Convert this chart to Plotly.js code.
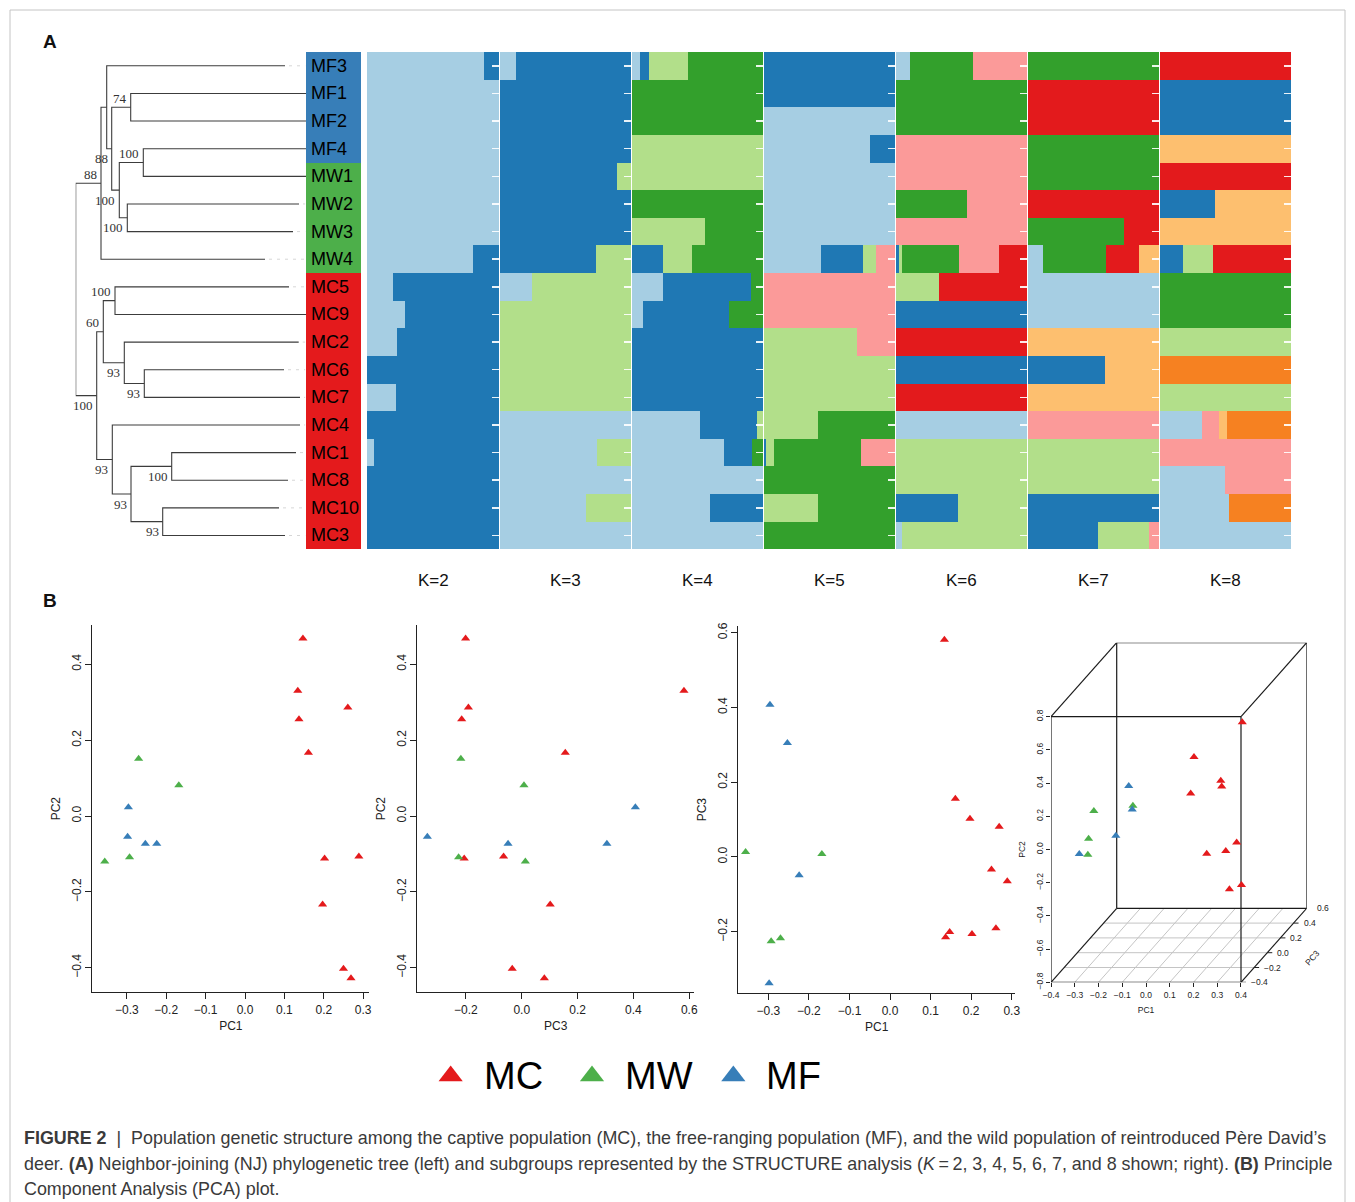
<!DOCTYPE html>
<html><head><meta charset="utf-8">
<script src="https://cdn.plot.ly/plotly-3.0.1.min.js"></script>
<style>html,body{margin:0;padding:0;background:#fff}#chart{width:1355px;height:1202px}</style>
</head><body><div id="chart"></div>
<script>
// ------------------------- DATA -------------------------
const samples = ['MF3','MF1','MF2','MF4','MW1','MW2','MW3','MW4','MC5','MC9','MC2','MC6','MC7','MC4','MC1','MC8','MC10','MC3'];
// NJ tree: leaf tip depth (distance from root, tree units)
const leafDepth = [209.3,231,231,231,231,223.3,217.3,189.3,213.3,231,223,208.3,224.3,224.3,220.3,212.3,203.3,209.3];
// internal nodes: children ids (0..17 leaves, 18+ internal nodes), depth, bootstrap support
const nodeLeft    = [1, 3, 5, 19, 18, 0, 23, 8, 11, 10, 25, 14, 16, 29, 13, 28, 24];
const nodeRight   = [2, 4, 6, 20, 21, 22, 7, 9, 12, 26, 27, 15, 17, 30, 31, 32, 33];
const nodeDepth   = [55, 67.6, 51.6, 43.6, 36, 31, 25.3, 39.3, 68.6, 48.6, 27.6, 96, 87, 55.3, 36.6, 21, 0];
const nodeSupport = ['74','100','100','100','88','','88','100','93','93','60','100','93','93','93','100',''];
const supportSide = ['a','a','b','b','b','','a','a','b','b','a','b','b','b','b','b',''];

const groupNames  = ['MC','MW','MF'];
const groupColors = {MC:'#e41a1c', MW:'#4daf4a', MF:'#377eb8'};

// STRUCTURE membership (per cluster, across the 18 samples above)
const clusterColors = {LB:'#a6cee3', DB:'#1f78b4', LG:'#b2df8a', G:'#33a02c', PK:'#fb9a99', RD:'#e31a1c', LO:'#fdbf6f', OR:'#f68121'};
const kLabels = ['K=2','K=3','K=4','K=5','K=6','K=7','K=8'];

const k2Order = ['LB','DB'];
const k2Q = [
 [0.884,1,1,1,1,1,1,0.80,0.197,0.29,0.227,0,0.222,0,0.056,0,0,0],
 [0.116,0,0,0,0,0,0,0.20,0.803,0.71,0.773,1,0.778,1,0.944,1,1,1]];
const k3Order = ['LB','DB','LG'];
const k3Q = [
 [0.122,0,0,0,0,0,0,0,0.242,0,0,0,0,1,0.738,1,0.656,1],
 [0.878,1,1,1,0.896,1,1,0.733,0,0,0,0,0,0,0,0,0,0],
 [0,0,0,0,0.104,0,0,0.267,0.758,1,1,1,1,0,0.262,0,0.344,0]];
const k4Order = ['LB','DB','LG','G'];
const k4Q = [
 [0.061,0,0,0,0,0,0,0,0.239,0.081,0,0,0,0.518,0.703,1,0.599,1],
 [0.066,0,0,0,0,0,0,0.24,0.667,0.66,1,1,1,0.439,0.213,0,0.401,0],
 [0.297,0,0,1,1,0,0.556,0.218,0,0,0,0,0,0.043,0,0,0,0],
 [0.576,1,1,0,0,1,0.444,0.542,0.094,0.259,0,0,0,0,0.084,0,0,0]];
const k5Order = ['LB','DB','LG','G','PK'];
const k5Q = [
 [0,0,1,0.806,1,1,1,0.437,0,0,0,0,0,0,0,0,0,0],
 [1,1,0,0.194,0,0,0,0.317,0,0,0,0,0,0,0.018,0,0,0],
 [0,0,0,0,0,0,0,0.102,0,0,0.712,1,1,0.414,0.055,0,0.411,0],
 [0,0,0,0,0,0,0,0,0,0,0,0,0,0.586,0.668,1,0.589,1],
 [0,0,0,0,0,0,0,0.144,1,1,0.288,0,0,0,0.259,0,0,0]];
const k6Order = ['LB','DB','LG','G','PK','RD'];
const k6Q = [
 [0.108,0,0,0,0,0,0,0,0,0,0,0,0,1,0,0,0,0.045],
 [0,0,0,0,0,0,0,0.024,0,1,0,1,0,0,0,0,0.476,0],
 [0,0,0,0,0,0,0,0.021,0.326,0,0,0,0,0,1,1,0.524,0.955],
 [0.479,1,1,0,0,0.539,0,0.437,0,0,0,0,0,0,0,0,0,0],
 [0.413,0,0,1,1,0.461,1,0.305,0,0,0,0,0,0,0,0,0,0],
 [0,0,0,0,0,0,0,0.213,0.674,0,1,0,1,0,0,0,0,0]];
const k7Order = ['LB','DB','LG','G','RD','LO','PK'];
const k7Q = [
 [0,0,0,0,0,0,0,0.113,1,1,0,0,0,0,0,0,0,0],
 [0,0,0,0,0,0,0,0,0,0,0,0.588,0,0,0,0,1,0.535],
 [0,0,0,0,0,0,0,0,0,0,0,0,0,0,1,1,0,0.388],
 [1,0,0,1,1,0,0.735,0.483,0,0,0,0,0,0,0,0,0,0],
 [0,1,1,0,0,1,0.265,0.249,0,0,0,0,0,0,0,0,0,0],
 [0,0,0,0,0,0,0,0.155,0,0,1,0.412,1,0,0,0,0,0],
 [0,0,0,0,0,0,0,0,0,0,0,0,0,1,0,0,0,0.077]];
const k8Order = ['LB','DB','LG','G','PK','LO','OR','RD'];
const k8Q = [
 [0,0,0,0,0,0,0,0,0,0,0,0,0,0.321,0,0.493,0.527,1],
 [0,1,1,0,0,0.418,0,0.175,0,0,0,0,0,0,0,0,0,0],
 [0,0,0,0,0,0,0,0.232,0,0,1,0,1,0,0,0,0,0],
 [0,0,0,0,0,0,0,0,1,1,0,0,0,0,0,0,0,0],
 [0,0,0,0,0,0,0,0,0,0,0,0,0,0.131,1,0.507,0,0],
 [0,0,0,1,0,0.582,1,0,0,0,0,0,0,0.057,0,0,0,0],
 [0,0,0,0,0,0,0,0,0,0,0,1,0,0.491,0,0,0.473,0],
 [1,0,0,0,1,0,0,0.593,0,0,0,0,0,0,0,0,0,0]];

// PCA scores
const mcPC1 = [0.147,0.134,0.261,0.137,0.161,0.202,0.289,0.197,0.250,0.269];
const mcPC2 = [0.468,0.330,0.286,0.255,0.167,-0.112,-0.107,-0.233,-0.403,-0.428];
const mcPC3 = [-0.201,0.581,-0.191,-0.215,0.156,-0.206,-0.065,0.102,-0.034,0.081];
const mwPC1 = [-0.270,-0.168,-0.293,-0.356];
const mwPC2 = [0.151,0.081,-0.109,-0.120];
const mwPC3 = [-0.218,0.008,-0.226,0.013];
const mfPC1 = [-0.296,-0.298,-0.253,-0.224];
const mfPC2 = [0.023,-0.055,-0.073,-0.073];
const mfPC3 = [0.407,-0.338,0.305,-0.049];

// ------------------------- LAYOUT HELPERS -------------------------
const W = 1355, H = 1202;
const PX = v => v / W;
const PY = v => 1 - v / H;
const xd = (a, b) => [PX(a), PX(b)];
const yd = (top, bot) => [PY(bot), PY(top)];
const FONT = 'Liberation Sans, Arial, Helvetica, sans-serif';
const ROWS = yd(52, 549.3);
const idx = samples.map((_, i) => i);
const ROW_RANGE = [samples.length - 0.5, -0.5];

const traces = [];
const layout = {
  width: W, height: H, margin: {l:0, r:0, t:0, b:0},
  paper_bgcolor: '#ffffff', plot_bgcolor: 'rgba(0,0,0,0)',
  showlegend: false, barmode: 'stack', bargap: 0,
  font: {family: FONT, color: '#222'},
  shapes: [], annotations: []
};
const hidden = extra => Object.assign({visible:false, fixedrange:true, showgrid:false, zeroline:false}, extra);

// frame
layout.shapes.push({type:'rect', xref:'paper', yref:'paper', x0:PX(10), x1:PX(1345), y0:PY(10), y1:PY(1240),
  line:{color:'#c4c4c4', width:1}, layer:'below'});

// ------------------------- DENDROGRAM -------------------------
const nLeaves = samples.length;
const depthOf = id => id < nLeaves ? leafDepth[id] : nodeDepth[id - nLeaves];
function yOf(id){ if (id < nLeaves) return id; const j = id - nLeaves; return (yOf(nodeLeft[j]) + yOf(nodeRight[j])) / 2; }
const tx = [], ty = [];
nodeDepth.forEach((d, j) => {
  const a = nodeLeft[j], b = nodeRight[j];
  const ya = yOf(a), yb = yOf(b);
  tx.push(depthOf(a), d, d, depthOf(b), null);
  ty.push(ya, ya, yb, yb, null);
});
traces.push({type:'scatter', mode:'lines', x:tx, y:ty, xaxis:'x', yaxis:'y',
  line:{color:'#3c3c3c', width:1.1}, hoverinfo:'skip'});
const ex = [], ey = [];
leafDepth.forEach((d, i) => { if (d < 227) { ex.push(d + 4, 229.5, null); ey.push(i, i, null); } });
traces.push({type:'scatter', mode:'lines', x:ex, y:ey, xaxis:'x', yaxis:'y',
  line:{color:'#d6d6d6', width:1, dash:'3px,5px'}, hoverinfo:'skip'});
layout.xaxis = hidden({domain: xd(75.7, 306.7), range:[0, 231], anchor:'y'});
layout.yaxis = hidden({domain: ROWS, range: ROW_RANGE, anchor:'x'});
nodeSupport.forEach((s, j) => {
  if (!s) return;
  layout.annotations.push({xref:'x', yref:'y', x: nodeDepth[j], y: yOf(nLeaves + j), text: s, showarrow:false,
    xanchor:'right', yanchor:'middle', xshift:-2, yshift: supportSide[j] === 'a' ? 9 : -10,
    font:{family:'Liberation Serif, Times New Roman, serif', size:13, color:'#333'}});
});

// ------------------------- SAMPLE LABEL COLUMN -------------------------
traces.push({type:'bar', orientation:'h', x: samples.map(() => 1), y: idx, width: 1, xaxis:'x2', yaxis:'y2',
  marker:{color: samples.map(s => groupColors[s.slice(0,2)]), line:{width:0}}, hoverinfo:'skip'});
layout.xaxis2 = hidden({domain: xd(306, 361), range:[0, 1], anchor:'y2'});
layout.yaxis2 = hidden({domain: ROWS, range: ROW_RANGE, anchor:'x2'});
samples.forEach((s, i) => layout.annotations.push({xref:'x2', yref:'y2', x:0, y:i, text:s, showarrow:false,
  xanchor:'left', yanchor:'middle', xshift:3, font:{family:FONT, size:18, color:'#000'}}));

// ------------------------- STRUCTURE PANELS -------------------------
const structure = [
  {order:k2Order, q:k2Q}, {order:k3Order, q:k3Q}, {order:k4Order, q:k4Q}, {order:k5Order, q:k5Q},
  {order:k6Order, q:k6Q}, {order:k7Order, q:k7Q}, {order:k8Order, q:k8Q}];
const kDom = [[367,499],[500,631],[632,763],[764,895],[896,1027],[1028,1159],[1160,1291]];
structure.forEach((p, k) => {
  const ax = 3 + k;
  p.order.forEach((c, ci) => traces.push({type:'bar', orientation:'h', x: p.q[ci], y: idx, width: 1,
    xaxis:'x' + ax, yaxis:'y' + ax, marker:{color: clusterColors[c], line:{width:0}}, hoverinfo:'skip'}));
  layout['xaxis' + ax] = hidden({domain: xd(kDom[k][0], kDom[k][1]), range:[0, 1], anchor:'y' + ax});
  layout['yaxis' + ax] = {domain: ROWS, range: ROW_RANGE, anchor:'x' + ax, side:'right', ticks:'inside',
    ticklen:7, tickwidth:1.5, tickcolor:'rgba(255,255,255,0.9)', tickmode:'array', tickvals: idx,
    showticklabels:false, showgrid:false, zeroline:false, showline:false, fixedrange:true};
  layout.annotations.push({xref:'x' + ax + ' domain', yref:'paper', x:0.5, y:PY(580), text: kLabels[k],
    showarrow:false, xanchor:'center', yanchor:'middle', font:{family:FONT, size:17, color:'#111'}});
});

// panel letters
layout.annotations.push({xref:'paper', yref:'paper', x:PX(41), y:PY(42), text:'<b>A</b>', showarrow:false,
  xanchor:'left', yanchor:'middle', font:{family:FONT, size:19, color:'#111'}});
layout.annotations.push({xref:'paper', yref:'paper', x:PX(41), y:PY(600), text:'<b>B</b>', showarrow:false,
  xanchor:'left', yanchor:'middle', font:{family:FONT, size:19, color:'#111'}});

// ------------------------- PCA 2D PANELS -------------------------
const pca = {MC:{pc1:mcPC1, pc2:mcPC2, pc3:mcPC3}, MW:{pc1:mwPC1, pc2:mwPC2, pc3:mwPC3}, MF:{pc1:mfPC1, pc2:mfPC2, pc3:mfPC3}};
const AX = '#222';
function rX(dom, range, dtick, anchor, title){
  return {domain: dom, range, dtick, tick0:0, tickformat:'.1f', anchor, ticks:'outside', ticklen:6, tickwidth:1,
    tickcolor:AX, showline:true, linecolor:AX, linewidth:1, showgrid:false, zeroline:false, fixedrange:true,
    tickfont:{family:FONT, size:12, color:AX}, title:{text:title, font:{family:FONT, size:12, color:AX}, standoff:5}};
}
function rY(dom, range, dtick, anchor, title){
  const a = rX(dom, range, dtick, anchor, title);
  a.tickangle = -90; a.title.standoff = 6;
  return a;
}
layout.xaxis10 = rX(xd(92.3, 369.3), [-0.3876, 0.3155], 0.1, 'y10', 'PC1');
layout.yaxis10 = rY(yd(625, 992.3), [-0.4648, 0.5036], 0.2, 'x10', 'PC2');
layout.xaxis11 = rX(xd(417.3, 694), [-0.374, 0.617], 0.2, 'y11', 'PC3');
layout.yaxis11 = rY(yd(625, 992.3), [-0.4648, 0.5036], 0.2, 'x11', 'PC2');
layout.xaxis12 = rX(xd(738.3, 1015), [-0.374, 0.308], 0.1, 'y12', 'PC1');
layout.yaxis12 = rY(yd(626, 993.3), [-0.365, 0.618], 0.2, 'x12', 'PC3');

// ------------------------- PCA 3D (oblique projection) -------------------------
const B3 = {x:[-0.4, 0.4], y:[-0.8, 0.8], z:[-0.4, 0.6], du:0.3458, dv:0.2786};
const fz = v => (v - B3.z[0]) / (B3.z[1] - B3.z[0]);
const pu = (x, z) => (x - B3.x[0]) / (B3.x[1] - B3.x[0]) + fz(z) * B3.du;
const pv = (y, z) => (y - B3.y[0]) / (B3.y[1] - B3.y[0]) + fz(z) * B3.dv;

groupNames.forEach(g => {
  const d = pca[g];
  const mk = {symbol:'triangle-up', size:8, color: groupColors[g], line:{width:0}};
  traces.push({type:'scatter', mode:'markers', x:d.pc1, y:d.pc2, xaxis:'x10', yaxis:'y10', marker:mk, hoverinfo:'skip'});
  traces.push({type:'scatter', mode:'markers', x:d.pc3, y:d.pc2, xaxis:'x11', yaxis:'y11', marker:mk, hoverinfo:'skip'});
  traces.push({type:'scatter', mode:'markers', x:d.pc1, y:d.pc3, xaxis:'x12', yaxis:'y12', marker:mk, hoverinfo:'skip'});
  traces.push({type:'scatter', mode:'markers', x:d.pc1.map((v,i) => pu(v, d.pc3[i])), y:d.pc2.map((v,i) => pv(v, d.pc3[i])),
    xaxis:'x13', yaxis:'y13', marker:mk, hoverinfo:'skip'});
});
layout.xaxis13 = hidden({domain: xd(1051, 1306.7), range:[0, 1 + B3.du], anchor:'y13'});
layout.yaxis13 = hidden({domain: yd(642.7, 982.3), range:[0, 1 + B3.dv], anchor:'x13'});
// front-face axes for PC1 / PC2 ticks
traces.push({type:'scatter', mode:'markers', x:[null], y:[null], xaxis:'x14', yaxis:'y14', hoverinfo:'skip'});
const small = {family:FONT, size:8.5, color:AX};
layout.xaxis14 = {domain: xd(1051, 1241), range:[-0.4001, 0.4001], dtick:0.1, tick0:0, tickformat:'.1f', anchor:'y14',
  ticks:'outside', ticklen:4, tickcolor:AX, showline:false, showgrid:false, zeroline:false, fixedrange:true,
  tickfont:small, title:{text:'PC1', font:small, standoff:8}};
layout.yaxis14 = {domain: yd(716.7, 982.3), range:[-0.8001, 0.8001], dtick:0.2, tick0:0, tickformat:'.1f', anchor:'x14',
  ticks:'outside', ticklen:4, tickcolor:AX, tickangle:-90, showline:false, showgrid:false, zeroline:false, fixedrange:true,
  tickfont:small, title:{text:'PC2', font:small, standoff:7}};
// floor grid
const line13 = (x0, y0, x1, y1, color, width, layer) => ({type:'line', xref:'x13', yref:'y13', x0, y0, x1, y1,
  line:{color, width}, layer: layer || 'below'});
[-0.2, 0, 0.2, 0.4].forEach(t => { const f = fz(t); layout.shapes.push(line13(f*B3.du, f*B3.dv, 1 + f*B3.du, f*B3.dv, '#c4c4c4', 1)); });
[-0.3, -0.2, -0.1, 0, 0.1, 0.2, 0.3].forEach(t => { const u = (t - B3.x[0]) / (B3.x[1] - B3.x[0]);
  layout.shapes.push(line13(u, 0, u + B3.du, B3.dv, '#c4c4c4', 1)); });
// box
const du = B3.du, dv = B3.dv, BOX = '#1a1a1a';
[[0,0,1,0],[1,0,1,1],[1,1,0,1],[0,1,0,0],
 [du,dv,1+du,dv],[1+du,dv,1+du,1+dv],[1+du,1+dv,du,1+dv],[du,1+dv,du,dv],
 [0,0,du,dv],[1,0,1+du,dv],[1,1,1+du,1+dv],[0,1,du,1+dv]].forEach(s =>
  layout.shapes.push(line13(s[0], s[1], s[2], s[3], BOX, 1.2)));
// depth (PC3) axis ticks and labels
[-0.4, -0.2, 0, 0.2, 0.4, 0.6].forEach(t => {
  const f = fz(t), u = 1 + f*du, v = f*dv;
  layout.shapes.push({type:'line', xref:'x13', yref:'y13', xsizemode:'pixel', xanchor:u, x0:0, x1:5, y0:v, y1:v,
    line:{color:AX, width:1}});
  layout.annotations.push({xref:'x13', yref:'y13', x:u, y:v, text:(t < 0 ? '\u2212' : '') + Math.abs(t).toFixed(1),
    showarrow:false, xanchor:'left', yanchor:'middle', xshift:8, font:small});
});
layout.annotations.push({xref:'paper', yref:'paper', x:PX(1312), y:PY(958), text:'PC3', showarrow:false,
  textangle:-48, xanchor:'center', yanchor:'middle', font:small});

// ------------------------- LEGEND -------------------------
traces.push({type:'scatter', mode:'markers', x: groupNames, y: groupNames.map(() => 0), xaxis:'x15', yaxis:'y15',
  marker:{symbol:'triangle-up', size:21, color: groupNames.map(g => groupColors[g])}, hoverinfo:'skip'});
layout.xaxis15 = hidden({domain: xd(380, 804), type:'category', categoryarray: groupNames, range:[-0.5, 2.5], anchor:'y15'});
layout.yaxis15 = hidden({domain: yd(1059, 1093), range:[-1, 1], anchor:'x15'});
groupNames.forEach(g => layout.annotations.push({xref:'x15', yref:'y15', x:g, y:0, text:g, showarrow:false,
  xanchor:'left', yanchor:'middle', xshift:31, font:{family:FONT, size:38, color:'#000'}}));

// ------------------------- CAPTION -------------------------
const capFont = {family:FONT, size:17.9, color:'#3a3a3a'};
const captionLines = [
  '<b>FIGURE 2</b>  |  Population genetic structure among the captive population (MC), the free-ranging population (MF), and the wild population of reintroduced Père David\u2019s',
  'deer. <b>(A)</b> Neighbor-joining (NJ) phylogenetic tree (left) and subgroups represented by the STRUCTURE analysis (<i>K</i>\u2009=\u20092, 3, 4, 5, 6, 7, and 8 shown; right). <b>(B)</b> Principle',
  'Component Analysis (PCA) plot.'];
const capY = [1138, 1164, 1189];
captionLines.forEach((t, i) => layout.annotations.push({xref:'paper', yref:'paper', x:PX(22), y:PY(capY[i]), text:t,
  showarrow:false, xanchor:'left', yanchor:'middle', font:capFont}));

Plotly.newPlot('chart', traces, layout, {displayModeBar:false, staticPlot:true});
</script>
</body></html>
